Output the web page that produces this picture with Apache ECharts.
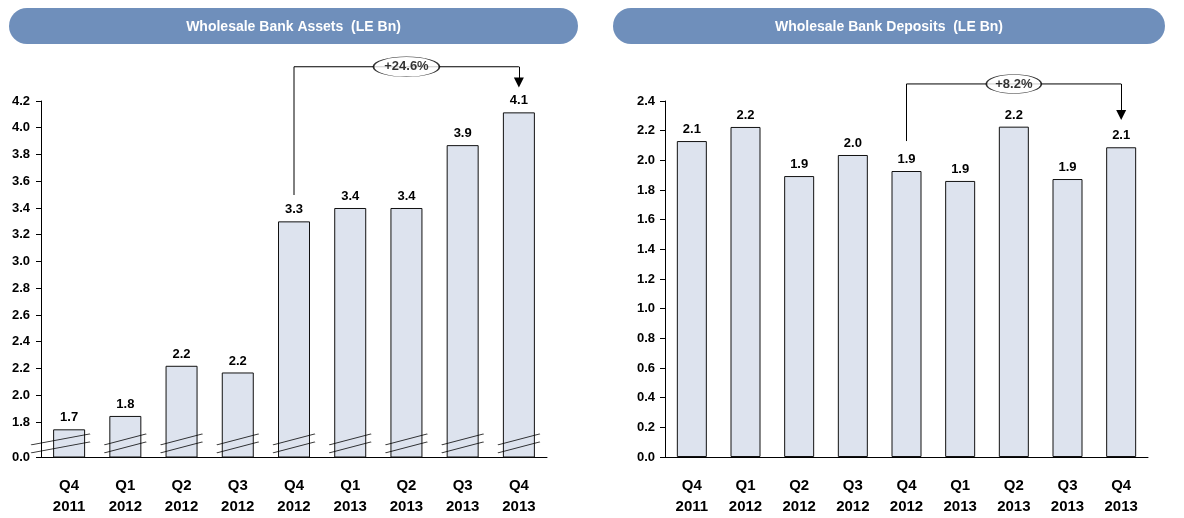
<!DOCTYPE html>
<html>
<head>
<meta charset="utf-8">
<script src="https://cdn.jsdelivr.net/npm/echarts@6/dist/echarts.min.js"></script>
<style>
  html, body { margin: 0; padding: 0; background: #fff; }
  #chart { width: 1184px; height: 518px; }
</style>
</head>
<body>
<div id="chart"></div>
<script>
// categories
const quarters = ['Q4\n2011', 'Q1\n2012', 'Q2\n2012', 'Q3\n2012', 'Q4\n2012', 'Q1\n2013', 'Q2\n2013', 'Q3\n2013', 'Q4\n2013']

// values (LE Bn)
const assets = [1.745, 1.845, 2.22, 2.17, 3.30, 3.40, 3.40, 3.87, 4.115]
const deposits = [2.13, 2.225, 1.894, 2.036, 1.928, 1.861, 2.227, 1.874, 2.088]

// left axis is broken: bottom of the axis reads 0.0
const assetsAxisBase = 1.538
const assetsTicks = [assetsAxisBase, 1.8, 2.0, 2.2, 2.4, 2.6, 2.8, 3.0, 3.2, 3.4, 3.6, 3.8, 4.0, 4.2]
const assetsBreakLevel = 1.64

// growth brackets: [category index, value]
const assetsBracket = [[4, 3.497], [4, 4.456], [8, 4.456]]
const assetsArrow = [[8, 4.456], [8, 4.338]]
const assetsGrowth = [[6, 4.456, '+24.6%']]
const depositsBracket = [[4, 2.13], [4, 2.515], [8, 2.515]]
const depositsArrow = [[8, 2.515], [8, 2.306]]
const depositsGrowth = [[6, 2.515, '+8.2%']]

const titles = ['Wholesale Bank Assets  (LE Bn)', 'Wholesale Bank Deposits  (LE Bn)']

const font = 'Liberation Sans'
const barColor = '#dde3ee'
const bannerColor = '#6f8fbb'

const myChart = echarts.init(document.getElementById('chart'), null, { renderer: 'canvas' })

function xAxisFor (gridIndex) {
  return {
    type: 'category',
    gridIndex,
    data: quarters,
    axisLine: { lineStyle: { color: '#000', width: 1 } },
    axisTick: { show: false },
    axisLabel: {
      color: '#000',
      fontFamily: font,
      fontWeight: 'bold',
      fontSize: 15,
      lineHeight: 21,
      margin: 18
    }
  }
}

function barSeries (idx, data, width) {
  return {
    type: 'bar',
    xAxisIndex: idx,
    yAxisIndex: idx,
    data,
    barWidth: width,
    z: 2,
    itemStyle: { color: barColor, borderColor: '#111', borderWidth: 1 },
    label: {
      show: true,
      position: 'top',
      distance: 5,
      color: '#000',
      fontFamily: font,
      fontWeight: 'bold',
      fontSize: 13,
      formatter: p => p.value.toFixed(1)
    }
  }
}

function bracketSeries (idx, path, arrow, growth, ovalSize) {
  return [
    {
      type: 'lines',
      coordinateSystem: 'cartesian2d',
      xAxisIndex: idx,
      yAxisIndex: idx,
      polyline: true,
      clip: false,
      z: 4,
      silent: true,
      lineStyle: { color: '#000', width: 1, opacity: 1, curveness: 0 },
      data: [{ coords: path }]
    },
    {
      type: 'lines',
      coordinateSystem: 'cartesian2d',
      xAxisIndex: idx,
      yAxisIndex: idx,
      clip: false,
      z: 4,
      silent: true,
      symbol: ['none', 'triangle'],
      symbolSize: 10,
      lineStyle: { color: '#000', width: 1, opacity: 1, curveness: 0 },
      data: [{ coords: arrow }]
    },
    {
      type: 'scatter',
      xAxisIndex: idx,
      yAxisIndex: idx,
      clip: false,
      z: 5,
      silent: true,
      symbol: 'path://M0,10 A32,10 0 1 1 64,10 A32,10 0 1 1 0,10 Z',
      symbolSize: ovalSize,
      itemStyle: { color: '#fff', borderColor: '#000', borderWidth: 1 },
      label: {
        show: true,
        position: 'inside',
        color: '#000',
        fontFamily: font,
        fontWeight: 'bold',
        fontSize: 13,
        formatter: p => p.value[2]
      },
      data: growth
    }
  ]
}

const option = {
  animation: false,
  backgroundColor: '#fff',
  graphic: [
    {
      type: 'rect',
      shape: { x: 9, y: 8, width: 569, height: 36, r: 18 },
      style: { fill: bannerColor },
      silent: true
    },
    {
      type: 'text',
      x: 293.5,
      y: 27,
      style: { text: titles[0], align: 'center', verticalAlign: 'middle', fill: '#fff', font: 'bold 14px "Liberation Sans"' },
      silent: true
    },
    {
      type: 'rect',
      shape: { x: 613, y: 8, width: 552, height: 36, r: 18 },
      style: { fill: bannerColor },
      silent: true
    },
    {
      type: 'text',
      x: 889,
      y: 27,
      style: { text: titles[1], align: 'center', verticalAlign: 'middle', fill: '#fff', font: 'bold 14px "Liberation Sans"' },
      silent: true
    }
  ],
  grid: [
    { left: 41, top: 101, width: 506, height: 356 },
    { left: 665, top: 101, width: 483, height: 356 }
  ],
  xAxis: [xAxisFor(0), xAxisFor(1)],
  yAxis: [
    {
      type: 'value',
      gridIndex: 0,
      min: assetsAxisBase,
      max: 4.2,
      splitLine: { show: false },
      axisLine: { show: true, lineStyle: { color: '#000', width: 1 } },
      axisTick: { show: true, length: 5, lineStyle: { color: '#000' }, customValues: assetsTicks },
      axisLabel: {
        customValues: assetsTicks,
        margin: 11,
        color: '#000',
        fontFamily: font,
        fontWeight: 'bold',
        fontSize: 13,
        formatter: v => (v < 1.7 ? '0.0' : v.toFixed(1))
      }
    },
    {
      type: 'value',
      gridIndex: 1,
      min: 0,
      max: 2.4,
      interval: 0.2,
      splitLine: { show: false },
      axisLine: { show: true, lineStyle: { color: '#000', width: 1 } },
      axisTick: { show: true, length: 5, lineStyle: { color: '#000' } },
      axisLabel: {
        margin: 10,
        color: '#000',
        fontFamily: font,
        fontWeight: 'bold',
        fontSize: 13,
        formatter: v => v.toFixed(1)
      }
    }
  ],
  series: [
    barSeries(0, assets, 32),
    barSeries(1, deposits, 30),
    // axis-break marks across the left chart bars
    {
      type: 'scatter',
      xAxisIndex: 0,
      yAxisIndex: 0,
      z: 3,
      silent: true,
      symbol: 'path://M0,11 L42,0 M0,19 L42,8',
      symbolSize: [42, 19],
      itemStyle: { color: 'rgba(0,0,0,0)', borderColor: '#000', borderWidth: 1.2 },
      data: quarters.map((q, i) => i === 0
        ? { value: [i, assetsBreakLevel], symbolSize: [59, 19], symbolOffset: [-8.5, 0] }
        : [i, assetsBreakLevel])
    },
    ...bracketSeries(0, assetsBracket, assetsArrow, assetsGrowth, [66, 20]),
    ...bracketSeries(1, depositsBracket, depositsArrow, depositsGrowth, [55, 19])
  ]
}

option && myChart.setOption(option)
</script>
</body>
</html>
